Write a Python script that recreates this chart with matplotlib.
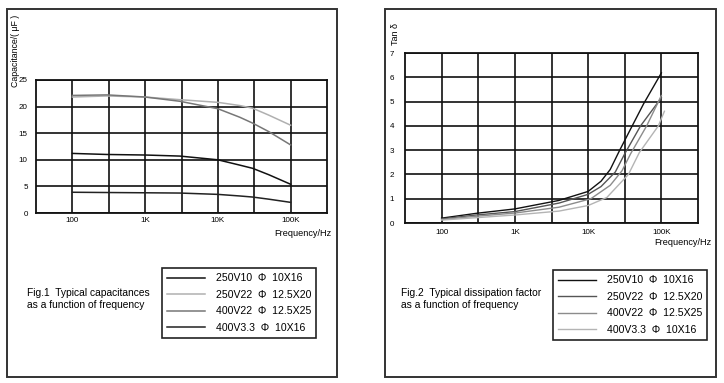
import numpy as np
import matplotlib
matplotlib.use("Agg")
import matplotlib.pyplot as plt
from matplotlib.patches import Rectangle

plt.rcParams['font.family'] = ['Liberation Sans', 'DejaVu Sans']

# ---------- Data ---------- #
labels = ["250V10  \u03a6  10X16", "250V22  \u03a6  12.5X20",
          "400V22  \u03a6  12.5X25", "400V3.3  \u03a6  10X16"]

# Fig.1 capacitance (uF) vs frequency (Hz)
cap_freq = [100, 300, 1000, 3000, 10000, 20000, 30000, 50000, 100000]
cap_250v10 = [11.2, 11.0, 10.9, 10.7, 10.0, 9.0, 8.4, 7.2, 5.4]
cap_250v22 = [21.8, 22.0, 21.8, 21.3, 20.8, 20.2, 19.7, 18.4, 16.5]
cap_400v22 = [22.1, 22.2, 21.8, 21.0, 19.6, 18.0, 16.9, 15.3, 12.8]
cap_400v33 = [3.9, 3.85, 3.8, 3.75, 3.5, 3.2, 3.0, 2.6, 2.0]

# Fig.2 tan delta vs frequency (Hz)
tan_f_250v10 = [100, 300, 1000, 4000, 10000, 15000, 20000, 27000, 40000, 57000, 100000]
tan_250v10 = [0.2, 0.4, 0.58, 0.93, 1.3, 1.72, 2.2, 3.0, 4.0, 4.9, 6.18]
tan_f_250v22 = [100, 300, 1000, 4000, 10000, 15000, 23500, 31600, 52000, 89000, 100000]
tan_250v22 = [0.17, 0.33, 0.47, 0.82, 1.18, 1.5, 2.1, 2.85, 4.0, 4.95, 5.15]
tan_f_400v22 = [100, 300, 1000, 4000, 10900, 20000, 29000, 38000, 63000, 100000]
tan_400v22 = [0.14, 0.28, 0.41, 0.65, 1.0, 1.55, 2.15, 2.85, 4.0, 5.25]
tan_f_400v33 = [100, 300, 1000, 4000, 10000, 18000, 35500, 50000, 91000, 110000]
tan_400v33 = [0.12, 0.22, 0.33, 0.49, 0.72, 1.05, 2.0, 2.9, 4.0, 4.6]

x_ticks = [100, 1000, 10000, 100000]
x_ticklabels = ["100", "1K", "10K", "100K"]

cap_colors = ["#111111", "#b0b0b0", "#777777", "#222222"]
tan_colors = ["#111111", "#555555", "#8c8c8c", "#b4b4b4"]

W, H = 724, 383
fig = plt.figure(figsize=(W / 100, H / 100), dpi=100)


def fx(px):
    return px / W


def fy(py):
    return 1 - py / H


# ---------- Outer frames ---------- #
for x0, x1 in [(7, 337), (385, 716)]:
    fig.patches.append(Rectangle((fx(x0), fy(377)), fx(x1) - fx(x0), fy(9) - fy(377),
                                 transform=fig.transFigure, fill=False,
                                 edgecolor="#333333", linewidth=1.4))


def setup_axes(ax, ymax, ypad, xpad):
    ax.set_xscale("log")
    ax.set_xlim(10 ** 1.5, 10 ** 5.5)
    ax.set_ylim(0, ymax)
    for g in 10 ** np.arange(2, 5.01, 0.5):
        ax.axvline(g, color="#111111", linewidth=1.2, zorder=1)
    ax.set_xticks(x_ticks)
    ax.set_xticklabels(x_ticklabels)
    ax.minorticks_off()
    ax.tick_params(length=0, labelsize=5.8, pad=xpad, axis="x")
    ax.tick_params(length=0, labelsize=5.8, pad=ypad, axis="y")
    ax.yaxis.grid(True, color="#111111", linewidth=1.2)
    ax.set_axisbelow(True)
    for s in ax.spines.values():
        s.set_linewidth(1.3)
        s.set_color("#111111")


def add_legend(handles, left, top):
    leg = fig.legend(handles=handles, loc="upper left",
                     bbox_to_anchor=(fx(left), fy(top)), fontsize=7.6,
                     frameon=True, fancybox=False, edgecolor="#222222",
                     framealpha=1, handlelength=3.6, handletextpad=1.0,
                     labelspacing=0.62, borderpad=0.5, borderaxespad=0)
    leg.get_frame().set_linewidth(1.2)
    return leg


# ---------- Fig.1 Capacitance ---------- #
ax1 = fig.add_axes([fx(36), fy(213), fx(327) - fx(36), fy(80) - fy(213)])
setup_axes(ax1, 25, 6, 3)
ax1.set_yticks(range(0, 26, 5))
cap_series = [cap_250v10, cap_250v22, cap_400v22, cap_400v33]
cap_lines = []
for vals, c, lab in zip(cap_series, cap_colors, labels):
    ln, = ax1.plot(cap_freq, vals, color=c, linewidth=1.1, label=lab, zorder=3)
    cap_lines.append(ln)

fig.text(fx(15), fy(87), "Capacitance/( \u03bcF )", rotation=90, ha="center",
         va="bottom", fontsize=6.3)
fig.text(fx(331), fy(233), "Frequency/Hz", ha="right", va="center", fontsize=6.6)
fig.text(fx(27), fy(299), "Fig.1  Typical capacitances\nas a function of frequency",
         ha="left", va="center", fontsize=7.4, linespacing=1.3)
add_legend(cap_lines, 162, 268)

# ---------- Fig.2 Dissipation factor ---------- #
ax2 = fig.add_axes([fx(405), fy(223), fx(698) - fx(405), fy(53) - fy(223)])
setup_axes(ax2, 7, 8, 4)
ax2.set_yticks(range(0, 8))
tan_series = [(tan_f_250v10, tan_250v10), (tan_f_250v22, tan_250v22),
              (tan_f_400v22, tan_400v22), (tan_f_400v33, tan_400v33)]
tan_lines = []
for (f, vals), c, lab in zip(tan_series, tan_colors, labels):
    ln, = ax2.plot(f, vals, color=c, linewidth=1.0, label=lab, zorder=3)
    tan_lines.append(ln)

fig.text(fx(395), fy(45), "Tan \u03b4", rotation=90, ha="center", va="bottom",
         fontsize=6.5)
fig.text(fx(711), fy(242), "Frequency/Hz", ha="right", va="center", fontsize=6.6)
fig.text(fx(401), fy(299), "Fig.2  Typical dissipation factor\nas a function of frequency",
         ha="left", va="center", fontsize=7.4, linespacing=1.3)
add_legend(tan_lines, 553, 270)

fig.savefig("out.png", dpi=100)
